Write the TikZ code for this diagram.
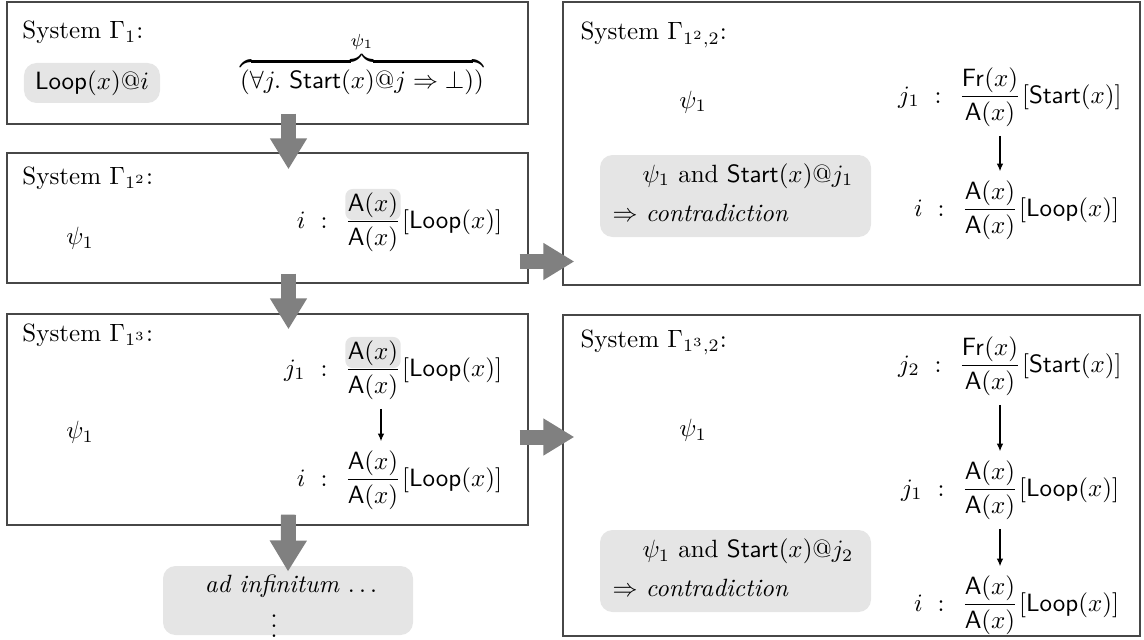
\documentclass[tikz,border=0pt]{standalone}
\usepackage{amsmath}
\usetikzlibrary{arrows.meta,fit,calc,backgrounds}

% one fraction row "label : num/den [rule]"; #1 names the fraction node
\newcommand\fracrow[6]{%
  \node[txt] (#1) at (#2) {$\dfrac{#4}{#5}$};
  \node[txt, anchor=base east] (#1l) at (#1.base west) {$#3\hspace{6pt}{:}\hspace{6.5pt}$};
  \node[txt, anchor=base west] (#1r) at (#1.base east) {$[#6]$};%
}
% grey rounded mark behind the numerator of a fraction node
\newcommand\marknum[1]{%
  \begin{scope}[on background layer]
    \fill[black!10, rounded corners=3pt]
      ($(#1.north west)+(1,-3)$) rectangle ($(#1.base east)+(-1,-8)$);
  \end{scope}%
}

\begin{document}
\begin{tikzpicture}[x=0.4pt,y=-0.4pt,
  frame/.style={draw=black!72, line width=0.55pt, inner sep=0pt},
  shade/.style={fill=black!10, rounded corners=5pt, inner sep=0pt},
  txt/.style={inner sep=0pt},
  bigarrow/.style={draw=black!50, line width=6pt, -{Triangle[width=14pt,length=12.4pt]}},
  thinarrow/.style={line width=0.45pt, -{Latex[length=3pt,width=2.6pt]}, shorten <=3.5pt, shorten >=3.5pt}]

\useasboundingbox (0,0) rectangle (1144,639);

% system frames
\node[frame, fit={(7,2) (528,124)}] (b1) {};
\node[frame, fit={(7,153) (528,283)}] (b2) {};
\node[frame, fit={(7,314) (528,525)}] (b3) {};
\node[frame, fit={(563,2) (1140,285)}] (b4) {};
\node[frame, fit={(563,315) (1140,636)}] (b5) {};

% titles
\node[txt, anchor=base west] (t1) at (22,39) {System $\Gamma_1$:};
\node[txt, anchor=base west] (t2) at (22,184) {System $\Gamma_{1^2}$:};
\node[txt, anchor=base west] (t3) at (22,341) {System $\Gamma_{1^3}$:};
\node[txt, anchor=base west] (t4) at (580,40) {System $\Gamma_{1^2,2}$:};
\node[txt, anchor=base west] (t5) at (580,347) {System $\Gamma_{1^3,2}$:};

% system Gamma_1
\node[shade, minimum width=54.4pt, minimum height=16pt] (loop) at (92,83) {$\mathsf{Loop}(x)@i$};
\node[txt, anchor=base] (phi) at (362,89)
  {$\overbrace{(\forall j.\ \mathsf{Start}(x)@j\Rightarrow\bot))}^{\psi_1}$};

% psi_1 in the other systems
\node[txt] (p2) at (80,238) {$\psi_1$};
\node[txt] (p3) at (80,432) {$\psi_1$};
\node[txt] (p4) at (693,102) {$\psi_1$};
\node[txt] (p5) at (693,430) {$\psi_1$};

% traces
\fracrow{f21}{373,222}{i}{\mathsf{A}(x)}{\mathsf{A}(x)}{\mathsf{Loop}(x)}
\marknum{f21}

\fracrow{f31}{373,370}{j_1}{\mathsf{A}(x)}{\mathsf{A}(x)}{\mathsf{Loop}(x)}
\marknum{f31}
\fracrow{f32}{373,480}{i}{\mathsf{A}(x)}{\mathsf{A}(x)}{\mathsf{Loop}(x)}
\draw[thinarrow] ($(f31.south)+(8,0)$) -- ($(f32.north)+(8,0)$);

\fracrow{f41}{990,97}{j_1}{\mathsf{Fr}(x)}{\mathsf{A}(x)}{\mathsf{Start}(x)}
\fracrow{f42}{990,210}{i}{\mathsf{A}(x)}{\mathsf{A}(x)}{\mathsf{Loop}(x)}
\draw[thinarrow] ($(f41.south)+(10,0)$) -- ($(f42.north)+(10,0)$);

\fracrow{f51}{990,366}{j_2}{\mathsf{Fr}(x)}{\mathsf{A}(x)}{\mathsf{Start}(x)}
\fracrow{f52}{990,490}{j_1}{\mathsf{A}(x)}{\mathsf{A}(x)}{\mathsf{Loop}(x)}
\fracrow{f53}{990,605}{i}{\mathsf{A}(x)}{\mathsf{A}(x)}{\mathsf{Loop}(x)}
\draw[thinarrow] ($(f51.south)+(10,0)$) -- ($(f52.north)+(10,0)$);
\draw[thinarrow] ($(f52.south)+(10,0)$) -- ($(f53.north)+(10,0)$);

% contradictions
\node[shade, fit={(600,155) (871,237)}] (c4) {};
\node[txt, anchor=west] (c4a) at (642,176) {$\psi_1$ and $\mathsf{Start}(x)@j_1$};
\node[txt, anchor=west] (c4b) at (612,213) {$\Rightarrow$ \textit{contradiction}};
\node[shade, fit={(600,530) (871,612)}] (c5) {};
\node[txt, anchor=west] (c5a) at (642,551) {$\psi_1$ and $\mathsf{Start}(x)@j_2$};
\node[txt, anchor=west] (c5b) at (612,588) {$\Rightarrow$ \textit{contradiction}};

% the unending continuation
\node[shade, fit={(163,566) (413,635)}] (adinf) {};
\node[txt] (adtxt) at (291,586) {\textit{ad infinitum} $\ldots$};
\node[txt] (advd) at (274,619) {$\vdots$};

% steps between systems
\draw[bigarrow] ($(b1.south)+(21,-11)$) -- ($(b2.north)+(21,17)$);
\draw[bigarrow] ($(b2.south)+(21,-10)$) -- ($(b3.north)+(21,16)$);
\draw[bigarrow] ($(b3.south)+(21,-11)$) -- ($(adinf.north)+(0,6)$);
\draw[bigarrow] ($(b2.east)+(-9,43.5)$) -- ($(b2.east -| b4.west)+(12,43.5)$);
\draw[bigarrow] ($(b3.east)+(-9,17.5)$) -- ($(b3.east -| b5.west)+(12,17.5)$);

\end{tikzpicture}
\end{document}
